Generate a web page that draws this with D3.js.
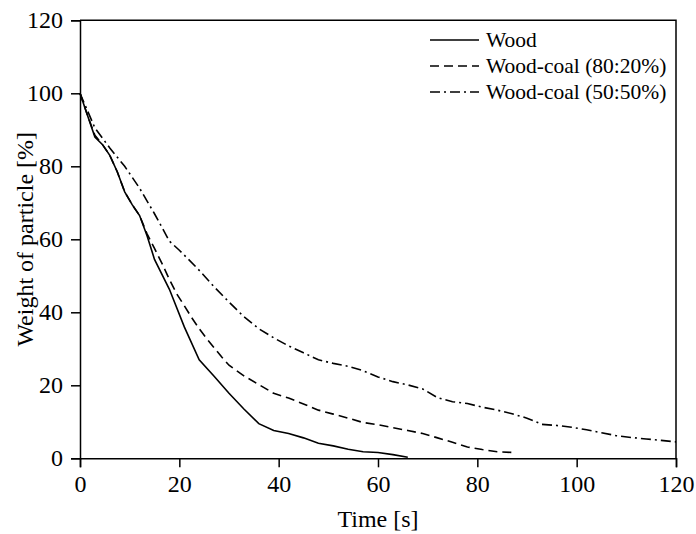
<!DOCTYPE html>
<html>
<head>
<meta charset="utf-8">
<script src="https://cdn.jsdelivr.net/npm/d3@7"></script>
<style>
  html, body { margin: 0; padding: 0; background: #fff; }
  svg { display: block; font-family: "Liberation Serif", "Times New Roman", serif; }
</style>
</head>
<body>
<svg id="chart" width="696" height="534"></svg>
<script>
// Particle mass loss over time for three fuel blends
const woodTime   = [0, 1.5, 3, 4.5, 6, 7.5, 9, 10.5, 12, 13.5, 15, 18, 21, 24, 27, 30, 33, 36, 39, 42, 45, 48, 51, 54, 57, 60, 63, 66];
const woodWeight = [100, 94, 88, 86, 83, 78.5, 73, 69.5, 66.5, 61, 54.5, 46.3, 36, 27, 22.5, 17.8, 13.5, 9.5, 7.6, 6.8, 5.6, 4.1, 3.4, 2.5, 1.8, 1.6, 1.0, 0.3];

const blend80Time   = [0, 1.5, 3, 4.5, 6, 7.5, 9, 10.5, 12, 13.5, 15, 16.5, 18, 19.5, 21, 22.5, 24, 25.5, 27, 28.5, 30, 33, 36, 39, 42, 45, 48, 51, 54, 57, 60, 63, 66, 69, 72, 75, 78, 81, 84, 87];
const blend80Weight = [100, 94, 88.5, 86, 83, 78.5, 73, 69.5, 66.5, 61.5, 57.5, 53.4, 49, 45, 41.8, 38.5, 35.5, 32.8, 30.3, 27.8, 25.5, 22.6, 20.2, 17.8, 16.5, 14.9, 13.2, 12.1, 11, 9.8, 9.2, 8.4, 7.6, 6.8, 5.6, 4.4, 3.1, 2.4, 1.8, 1.6];

const blend50Time   = [0, 3, 6, 9, 12, 15, 18, 20, 22, 24, 27, 30, 33, 36, 39, 42, 45, 48, 51, 54, 57, 60, 63, 66, 69, 72, 75, 78, 81, 84, 87, 90, 93, 96, 99, 102, 105, 108, 111, 114, 117, 120];
const blend50Weight = [100, 90.5, 85, 80, 74, 67, 59.5, 57, 54.3, 51.5, 47, 42.8, 38.8, 35.5, 33, 30.8, 28.9, 27, 26, 25.2, 24, 22.3, 21, 20.1, 19, 16.6, 15.5, 15, 14, 13.2, 12.2, 11, 9.3, 9, 8.5, 7.8, 7, 6.2, 5.7, 5.3, 4.9, 4.5];

const seriesNames = ["Wood", "Wood-coal (80:20%)", "Wood-coal (50:50%)"];
const xTicks = [0, 20, 40, 60, 80, 100, 120];
const yTicks = [0, 20, 40, 60, 80, 100, 120];

const dashes = [null, "9,5", "10,4,2,4"];
const series = [
  { name: seriesNames[0], t: woodTime,    w: woodWeight },
  { name: seriesNames[1], t: blend80Time, w: blend80Weight },
  { name: seriesNames[2], t: blend50Time, w: blend50Weight }
];

const margin = { left: 80, right: 20, top: 20.3, bottom: 75.7 };
const W = 696, H = 534;
const svg = d3.select("#chart");

const x = d3.scaleLinear().domain([0, 120]).range([margin.left, W - margin.right]);
const y = d3.scaleLinear().domain([0, 120]).range([H - margin.bottom, margin.top]);

// frame: top and right edges
svg.append("path")
  .attr("d", `M${x(0)},${y(120)}H${x(120)}V${y(0)}`)
  .attr("fill", "none").attr("stroke", "#000").attr("stroke-width", 1.5);

const xAxis = svg.append("g")
  .attr("transform", `translate(0,${y(0)})`)
  .call(d3.axisBottom(x).tickValues(xTicks).tickSize(9).tickPadding(8).tickFormat(d3.format("d")));
const yAxis = svg.append("g")
  .attr("transform", `translate(${x(0)},0)`)
  .call(d3.axisLeft(y).tickValues(yTicks).tickSize(9).tickPadding(8).tickFormat(d3.format("d")));

[xAxis, yAxis].forEach(g => {
  g.select(".domain").attr("stroke-width", 1.5);
  g.selectAll(".tick line").attr("stroke-width", 1.5);
  g.selectAll("text").attr("font-size", 24).attr("font-family", "Liberation Serif").attr("fill", "#000");
});

const line = d3.line().x(d => x(d[0])).y(d => y(d[1]));

series.forEach((s, i) => {
  const pts = s.t.map((t, k) => [t, s.w[k]]);
  svg.append("path")
    .datum(pts)
    .attr("d", line)
    .attr("fill", "none")
    .attr("stroke", "#000")
    .attr("stroke-width", 1.6)
    .attr("stroke-dasharray", dashes[i]);
});

// axis titles
svg.append("text")
  .attr("x", (x(0) + x(120)) / 2)
  .attr("y", 527)
  .attr("text-anchor", "middle")
  .attr("font-size", 24)
  .text("Time [s]");

svg.append("text")
  .attr("transform", `translate(33,${(y(0) + y(120)) / 2}) rotate(-90)`)
  .attr("text-anchor", "middle")
  .attr("font-size", 24)
  .text("Weight of particle [%]");

// legend
const legend = svg.append("g");
series.forEach((s, i) => {
  const ly = 40 + i * 26;
  legend.append("line")
    .attr("x1", 430).attr("x2", 479)
    .attr("y1", ly).attr("y2", ly)
    .attr("stroke", "#000").attr("stroke-width", 1.6)
    .attr("stroke-dasharray", dashes[i]);
  legend.append("text")
    .attr("x", 486).attr("y", ly + 7)
    .attr("font-size", 21.5)
    .text(s.name);
});
</script>
</body>
</html>
